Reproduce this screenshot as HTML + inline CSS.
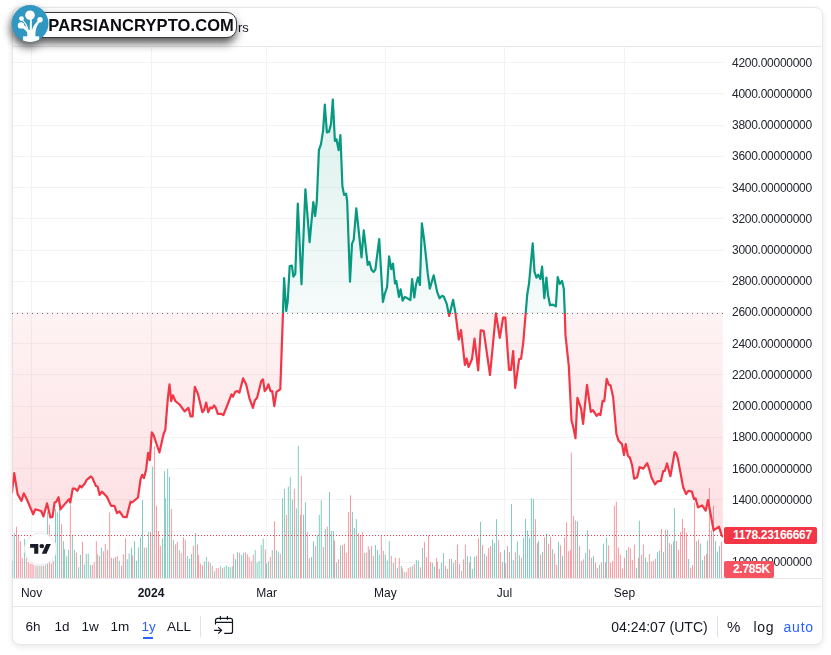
<!DOCTYPE html>
<html><head><meta charset="utf-8"><title>Chart</title>
<style>
html,body{margin:0;padding:0;background:#fff;}
body{width:831px;height:655px;position:relative;overflow:hidden;font-family:"Liberation Sans",sans-serif;color:#131722;}
.card{position:absolute;left:12px;top:7px;width:809px;height:636px;border:1px solid #e6e7ea;border-radius:8px;background:#fff;box-shadow:0 2px 7px rgba(0,0,0,.10);}
.hl{position:absolute;left:12px;width:811px;height:1px;background:#e6e7eb;}
svg.chart{position:absolute;left:0;top:0;}
.pl{position:absolute;left:732px;width:82px;height:16px;line-height:16px;font-size:12px;letter-spacing:-.27px;white-space:nowrap;color:#22252f;}
.tl{position:absolute;top:584.5px;width:60px;text-align:center;font-size:12px;line-height:16px;color:#131722;}
.tl.b{font-weight:bold;}
.tag{position:absolute;left:724px;color:#fff;font-weight:bold;font-size:12px;line-height:17px;height:17px;border-radius:2px;letter-spacing:-.3px;white-space:nowrap;box-sizing:border-box;padding-left:9px;}
.tb{position:absolute;top:618px;height:18px;line-height:18px;font-size:13.5px;white-space:nowrap;color:#131722;}
.blue{color:#2962ff;}
.sep{position:absolute;width:1px;background:#e0e3eb;top:616px;height:21px;}
.title{position:absolute;left:238px;top:19.5px;font-size:13px;line-height:16px;white-space:nowrap;color:#131722;}
.wmg{position:absolute;left:0;top:0;width:260px;height:60px;filter:drop-shadow(-1px 5px 5px rgba(0,0,0,.68));}
.wm{position:absolute;left:14px;top:12px;width:221px;height:24px;border:1px solid #3a3a3a;border-radius:10px;background:#fff;}
.wm span{position:absolute;left:33.3px;top:0;line-height:25px;font-size:16.5px;font-weight:bold;color:#0b0b12;letter-spacing:.1px;white-space:nowrap;}
svg.logo{position:absolute;left:10px;top:3px;}
</style></head><body>
<div id="root" style="position:absolute;left:0;top:0;width:831px;height:655px;opacity:.999;">
<div class="card"></div>
<div class="hl" style="top:46px"></div>
<div class="hl" style="top:578px"></div>
<div class="hl" style="top:606px"></div>
<svg class="chart" width="831" height="655" viewBox="0 0 831 655">
<defs>
<linearGradient id="gt" gradientUnits="userSpaceOnUse" x1="0" y1="47.0" x2="0" y2="313.0"><stop offset="0" stop-color="#089981" stop-opacity=".16"/><stop offset="1" stop-color="#089981" stop-opacity=".04"/></linearGradient>
<linearGradient id="gb" gradientUnits="userSpaceOnUse" x1="0" y1="313.0" x2="0" y2="578.0"><stop offset="0" stop-color="#f23645" stop-opacity=".06"/><stop offset="1" stop-color="#f23645" stop-opacity=".18"/></linearGradient>
<clipPath id="ct"><rect x="12.5" y="47.0" width="710.5" height="266.0"/></clipPath>
<clipPath id="cb"><rect x="12.5" y="313.0" width="710.5" height="265.0"/></clipPath>
<clipPath id="cp"><rect x="12.5" y="47.0" width="710.5" height="531.0"/></clipPath>
</defs>
<g stroke="#f3f3f5" stroke-width="1" shape-rendering="crispEdges"><line x1="12.5" x2="723.0" y1="562.2" y2="562.2"/><line x1="12.5" x2="723.0" y1="531.0" y2="531.0"/><line x1="12.5" x2="723.0" y1="499.8" y2="499.8"/><line x1="12.5" x2="723.0" y1="468.6" y2="468.6"/><line x1="12.5" x2="723.0" y1="437.3" y2="437.3"/><line x1="12.5" x2="723.0" y1="406.1" y2="406.1"/><line x1="12.5" x2="723.0" y1="374.9" y2="374.9"/><line x1="12.5" x2="723.0" y1="343.7" y2="343.7"/><line x1="12.5" x2="723.0" y1="312.4" y2="312.4"/><line x1="12.5" x2="723.0" y1="281.2" y2="281.2"/><line x1="12.5" x2="723.0" y1="250.0" y2="250.0"/><line x1="12.5" x2="723.0" y1="218.7" y2="218.7"/><line x1="12.5" x2="723.0" y1="187.5" y2="187.5"/><line x1="12.5" x2="723.0" y1="156.3" y2="156.3"/><line x1="12.5" x2="723.0" y1="125.1" y2="125.1"/><line x1="12.5" x2="723.0" y1="93.8" y2="93.8"/><line x1="12.5" x2="723.0" y1="62.6" y2="62.6"/><line x1="31.6" x2="31.6" y1="47.0" y2="578.0"/><line x1="151" x2="151" y1="47.0" y2="578.0"/><line x1="266.7" x2="266.7" y1="47.0" y2="578.0"/><line x1="385.4" x2="385.4" y1="47.0" y2="578.0"/><line x1="504.4" x2="504.4" y1="47.0" y2="578.0"/><line x1="624.5" x2="624.5" y1="47.0" y2="578.0"/></g>
<g opacity=".5" clip-path="url(#cp)"><rect x="12.10" y="560.7" width="1" height="17.3" fill="#089981"/><rect x="13.83" y="533.2" width="1" height="44.8" fill="#089981"/><rect x="16.00" y="526.7" width="1" height="51.3" fill="#f23645"/><rect x="17.88" y="535.4" width="1" height="42.6" fill="#f23645"/><rect x="19.90" y="541.2" width="1" height="36.8" fill="#f23645"/><rect x="21.77" y="557.8" width="1" height="20.2" fill="#f23645"/><rect x="23.94" y="539.0" width="1" height="39.0" fill="#089981"/><rect x="25.82" y="557.8" width="1" height="20.2" fill="#f23645"/><rect x="27.84" y="562.1" width="1" height="15.9" fill="#f23645"/><rect x="29.72" y="563.6" width="1" height="14.4" fill="#f23645"/><rect x="31.59" y="563.6" width="1" height="14.4" fill="#f23645"/><rect x="33.33" y="565.0" width="1" height="13.0" fill="#f23645"/><rect x="35.49" y="565.7" width="1" height="12.3" fill="#089981"/><rect x="37.37" y="565.7" width="1" height="12.3" fill="#f23645"/><rect x="39.39" y="565.7" width="1" height="12.3" fill="#089981"/><rect x="41.27" y="565.7" width="1" height="12.3" fill="#f23645"/><rect x="43.15" y="565.7" width="1" height="12.3" fill="#089981"/><rect x="45.17" y="565.0" width="1" height="13.0" fill="#f23645"/><rect x="47.05" y="511.6" width="1" height="66.4" fill="#089981"/><rect x="48.92" y="524.6" width="1" height="53.4" fill="#f23645"/><rect x="50.94" y="563.6" width="1" height="14.4" fill="#f23645"/><rect x="52.82" y="560.7" width="1" height="17.3" fill="#f23645"/><rect x="54.99" y="508.7" width="1" height="69.3" fill="#089981"/><rect x="56.86" y="512.3" width="1" height="65.7" fill="#089981"/><rect x="59.03" y="508.7" width="1" height="69.3" fill="#089981"/><rect x="61.05" y="523.8" width="1" height="54.2" fill="#f23645"/><rect x="62.93" y="541.2" width="1" height="36.8" fill="#089981"/><rect x="64.08" y="549.1" width="1" height="28.9" fill="#089981"/><rect x="66.11" y="556.3" width="1" height="21.7" fill="#089981"/><rect x="67.98" y="549.8" width="1" height="28.2" fill="#089981"/><rect x="69.86" y="504.4" width="1" height="73.6" fill="#f23645"/><rect x="71.88" y="536.1" width="1" height="41.9" fill="#089981"/><rect x="74.05" y="549.8" width="1" height="28.2" fill="#089981"/><rect x="75.93" y="552.7" width="1" height="25.3" fill="#f23645"/><rect x="78.09" y="567.2" width="1" height="10.8" fill="#089981"/><rect x="79.97" y="554.9" width="1" height="23.1" fill="#089981"/><rect x="81.99" y="541.9" width="1" height="36.1" fill="#f23645"/><rect x="83.87" y="564.3" width="1" height="13.7" fill="#089981"/><rect x="85.75" y="553.7" width="1" height="24.3" fill="#089981"/><rect x="87.77" y="553.7" width="1" height="24.3" fill="#089981"/><rect x="89.93" y="565.0" width="1" height="13.0" fill="#089981"/><rect x="91.81" y="565.0" width="1" height="13.0" fill="#f23645"/><rect x="93.69" y="562.4" width="1" height="15.6" fill="#f23645"/><rect x="95.85" y="541.2" width="1" height="36.8" fill="#f23645"/><rect x="97.15" y="554.2" width="1" height="23.8" fill="#089981"/><rect x="99.03" y="556.1" width="1" height="21.9" fill="#f23645"/><rect x="100.91" y="547.7" width="1" height="30.3" fill="#089981"/><rect x="102.93" y="551.3" width="1" height="26.7" fill="#f23645"/><rect x="104.81" y="544.1" width="1" height="33.9" fill="#f23645"/><rect x="106.97" y="549.8" width="1" height="28.2" fill="#f23645"/><rect x="109.14" y="512.3" width="1" height="65.7" fill="#f23645"/><rect x="111.02" y="557.8" width="1" height="20.2" fill="#f23645"/><rect x="113.04" y="558.5" width="1" height="19.5" fill="#089981"/><rect x="114.92" y="557.1" width="1" height="20.9" fill="#f23645"/><rect x="116.79" y="556.1" width="1" height="21.9" fill="#f23645"/><rect x="118.81" y="560.7" width="1" height="17.3" fill="#089981"/><rect x="120.98" y="565.7" width="1" height="12.3" fill="#f23645"/><rect x="122.86" y="554.2" width="1" height="23.8" fill="#f23645"/><rect x="125.02" y="538.3" width="1" height="39.7" fill="#f23645"/><rect x="126.76" y="559.2" width="1" height="18.8" fill="#089981"/><rect x="128.63" y="553.5" width="1" height="24.5" fill="#089981"/><rect x="130.99" y="547.6" width="1" height="30.4" fill="#089981"/><rect x="132.11" y="555.1" width="1" height="22.9" fill="#f23645"/><rect x="133.97" y="541.1" width="1" height="36.9" fill="#089981"/><rect x="136.02" y="560.7" width="1" height="17.3" fill="#089981"/><rect x="137.88" y="547.6" width="1" height="30.4" fill="#089981"/><rect x="139.93" y="537.4" width="1" height="40.6" fill="#089981"/><rect x="141.98" y="500.1" width="1" height="77.9" fill="#089981"/><rect x="143.85" y="547.6" width="1" height="30.4" fill="#f23645"/><rect x="145.90" y="547.6" width="1" height="30.4" fill="#089981"/><rect x="147.95" y="531.8" width="1" height="46.2" fill="#089981"/><rect x="150.00" y="531.8" width="1" height="46.2" fill="#f23645"/><rect x="152.05" y="466.6" width="1" height="111.4" fill="#089981"/><rect x="153.91" y="446.1" width="1" height="131.9" fill="#f23645"/><rect x="155.96" y="505.7" width="1" height="72.3" fill="#f23645"/><rect x="158.01" y="530.9" width="1" height="47.1" fill="#f23645"/><rect x="159.87" y="545.8" width="1" height="32.2" fill="#f23645"/><rect x="161.92" y="538.3" width="1" height="39.7" fill="#089981"/><rect x="163.97" y="471.2" width="1" height="106.8" fill="#089981"/><rect x="164.90" y="498.3" width="1" height="79.7" fill="#089981"/><rect x="167.14" y="469.0" width="1" height="109.0" fill="#089981"/><rect x="169.00" y="476.8" width="1" height="101.2" fill="#089981"/><rect x="170.86" y="508.9" width="1" height="69.1" fill="#f23645"/><rect x="172.91" y="540.2" width="1" height="37.8" fill="#089981"/><rect x="174.96" y="544.3" width="1" height="33.7" fill="#f23645"/><rect x="176.83" y="542.0" width="1" height="36.0" fill="#f23645"/><rect x="178.88" y="550.4" width="1" height="27.6" fill="#089981"/><rect x="180.74" y="553.2" width="1" height="24.8" fill="#f23645"/><rect x="182.97" y="537.4" width="1" height="40.6" fill="#f23645"/><rect x="184.84" y="540.2" width="1" height="37.8" fill="#f23645"/><rect x="186.89" y="556.0" width="1" height="22.0" fill="#089981"/><rect x="188.94" y="558.8" width="1" height="19.2" fill="#089981"/><rect x="190.99" y="554.2" width="1" height="23.8" fill="#089981"/><rect x="192.85" y="545.8" width="1" height="32.2" fill="#f23645"/><rect x="194.90" y="533.3" width="1" height="44.7" fill="#089981"/><rect x="196.95" y="544.3" width="1" height="33.7" fill="#f23645"/><rect x="198.07" y="555.1" width="1" height="22.9" fill="#f23645"/><rect x="199.93" y="563.5" width="1" height="14.5" fill="#f23645"/><rect x="201.98" y="565.3" width="1" height="12.7" fill="#f23645"/><rect x="203.84" y="561.6" width="1" height="16.4" fill="#089981"/><rect x="205.89" y="556.9" width="1" height="21.1" fill="#089981"/><rect x="207.94" y="561.6" width="1" height="16.4" fill="#f23645"/><rect x="209.81" y="563.1" width="1" height="14.9" fill="#089981"/><rect x="211.86" y="565.9" width="1" height="12.1" fill="#f23645"/><rect x="213.90" y="571.5" width="1" height="6.5" fill="#089981"/><rect x="215.77" y="568.1" width="1" height="9.9" fill="#f23645"/><rect x="217.82" y="568.1" width="1" height="9.9" fill="#f23645"/><rect x="219.87" y="566.3" width="1" height="11.7" fill="#089981"/><rect x="221.92" y="568.1" width="1" height="9.9" fill="#f23645"/><rect x="223.78" y="566.8" width="1" height="11.2" fill="#089981"/><rect x="225.83" y="565.3" width="1" height="12.7" fill="#089981"/><rect x="227.88" y="566.8" width="1" height="11.2" fill="#089981"/><rect x="229.74" y="567.2" width="1" height="10.8" fill="#089981"/><rect x="231.79" y="566.3" width="1" height="11.7" fill="#089981"/><rect x="233.10" y="554.2" width="1" height="23.8" fill="#f23645"/><rect x="234.96" y="559.2" width="1" height="18.8" fill="#089981"/><rect x="237.01" y="552.3" width="1" height="25.7" fill="#089981"/><rect x="239.06" y="552.7" width="1" height="25.3" fill="#f23645"/><rect x="240.92" y="555.1" width="1" height="22.9" fill="#089981"/><rect x="242.97" y="552.7" width="1" height="25.3" fill="#089981"/><rect x="245.02" y="552.3" width="1" height="25.7" fill="#f23645"/><rect x="246.88" y="554.2" width="1" height="23.8" fill="#f23645"/><rect x="248.75" y="556.9" width="1" height="21.1" fill="#f23645"/><rect x="250.80" y="561.3" width="1" height="16.7" fill="#f23645"/><rect x="252.75" y="554.8" width="1" height="23.2" fill="#f23645"/><rect x="254.70" y="550.1" width="1" height="27.9" fill="#089981"/><rect x="256.65" y="562.4" width="1" height="15.6" fill="#089981"/><rect x="258.60" y="560.9" width="1" height="17.1" fill="#089981"/><rect x="260.76" y="545.1" width="1" height="32.9" fill="#089981"/><rect x="262.71" y="538.6" width="1" height="39.4" fill="#089981"/><rect x="264.88" y="549.4" width="1" height="28.6" fill="#f23645"/><rect x="265.96" y="563.5" width="1" height="14.5" fill="#089981"/><rect x="267.91" y="561.3" width="1" height="16.7" fill="#089981"/><rect x="269.86" y="557.0" width="1" height="21.0" fill="#f23645"/><rect x="271.81" y="550.1" width="1" height="27.9" fill="#089981"/><rect x="273.97" y="521.3" width="1" height="56.7" fill="#f23645"/><rect x="275.92" y="550.1" width="1" height="27.9" fill="#089981"/><rect x="277.87" y="551.6" width="1" height="26.4" fill="#089981"/><rect x="279.82" y="553.7" width="1" height="24.3" fill="#f23645"/><rect x="281.99" y="498.5" width="1" height="79.5" fill="#089981"/><rect x="283.94" y="488.8" width="1" height="89.2" fill="#089981"/><rect x="285.89" y="514.8" width="1" height="63.2" fill="#f23645"/><rect x="287.84" y="486.6" width="1" height="91.4" fill="#089981"/><rect x="289.79" y="477.3" width="1" height="100.7" fill="#089981"/><rect x="291.95" y="499.6" width="1" height="78.4" fill="#089981"/><rect x="293.90" y="488.8" width="1" height="89.2" fill="#f23645"/><rect x="295.85" y="508.3" width="1" height="69.7" fill="#089981"/><rect x="297.80" y="446.1" width="1" height="131.9" fill="#089981"/><rect x="299.97" y="514.8" width="1" height="63.2" fill="#f23645"/><rect x="300.83" y="475.8" width="1" height="102.2" fill="#f23645"/><rect x="303.00" y="514.8" width="1" height="63.2" fill="#089981"/><rect x="304.95" y="502.4" width="1" height="75.6" fill="#089981"/><rect x="306.90" y="532.1" width="1" height="45.9" fill="#f23645"/><rect x="308.85" y="558.1" width="1" height="19.9" fill="#f23645"/><rect x="311.01" y="557.0" width="1" height="21.0" fill="#089981"/><rect x="312.96" y="541.4" width="1" height="36.6" fill="#089981"/><rect x="314.91" y="546.2" width="1" height="31.8" fill="#f23645"/><rect x="316.86" y="535.3" width="1" height="42.7" fill="#089981"/><rect x="318.81" y="514.8" width="1" height="63.2" fill="#089981"/><rect x="320.76" y="500.2" width="1" height="77.8" fill="#089981"/><rect x="322.92" y="547.2" width="1" height="30.8" fill="#f23645"/><rect x="324.87" y="528.8" width="1" height="49.2" fill="#089981"/><rect x="326.82" y="526.7" width="1" height="51.3" fill="#f23645"/><rect x="328.99" y="492.0" width="1" height="86.0" fill="#089981"/><rect x="330.94" y="531.0" width="1" height="47.0" fill="#089981"/><rect x="332.89" y="531.0" width="1" height="47.0" fill="#089981"/><rect x="333.97" y="540.7" width="1" height="37.3" fill="#f23645"/><rect x="335.92" y="562.4" width="1" height="15.6" fill="#089981"/><rect x="337.87" y="559.2" width="1" height="18.8" fill="#f23645"/><rect x="340.03" y="545.5" width="1" height="32.5" fill="#089981"/><rect x="341.98" y="545.1" width="1" height="32.9" fill="#f23645"/><rect x="343.93" y="543.6" width="1" height="34.4" fill="#f23645"/><rect x="345.88" y="552.7" width="1" height="25.3" fill="#f23645"/><rect x="348.05" y="511.9" width="1" height="66.1" fill="#f23645"/><rect x="350.00" y="495.3" width="1" height="82.7" fill="#f23645"/><rect x="351.95" y="511.9" width="1" height="66.1" fill="#089981"/><rect x="353.90" y="527.8" width="1" height="50.2" fill="#089981"/><rect x="355.85" y="519.1" width="1" height="58.9" fill="#089981"/><rect x="358.01" y="533.2" width="1" height="44.8" fill="#f23645"/><rect x="359.96" y="534.9" width="1" height="43.1" fill="#f23645"/><rect x="361.91" y="532.1" width="1" height="45.9" fill="#f23645"/><rect x="363.86" y="552.7" width="1" height="25.3" fill="#089981"/><rect x="365.81" y="552.7" width="1" height="25.3" fill="#f23645"/><rect x="367.76" y="546.2" width="1" height="31.8" fill="#f23645"/><rect x="369.06" y="549.4" width="1" height="28.6" fill="#089981"/><rect x="371.06" y="546.1" width="1" height="31.9" fill="#f23645"/><rect x="372.92" y="555.9" width="1" height="22.1" fill="#f23645"/><rect x="374.95" y="545.0" width="1" height="33.0" fill="#089981"/><rect x="376.97" y="550.0" width="1" height="28.0" fill="#089981"/><rect x="378.84" y="554.7" width="1" height="23.3" fill="#089981"/><rect x="380.86" y="535.2" width="1" height="42.8" fill="#f23645"/><rect x="382.89" y="550.8" width="1" height="27.2" fill="#f23645"/><rect x="384.75" y="554.7" width="1" height="23.3" fill="#089981"/><rect x="386.78" y="560.6" width="1" height="17.4" fill="#089981"/><rect x="388.80" y="541.1" width="1" height="36.9" fill="#089981"/><rect x="390.82" y="555.9" width="1" height="22.1" fill="#f23645"/><rect x="392.85" y="562.9" width="1" height="15.1" fill="#089981"/><rect x="394.87" y="557.8" width="1" height="20.2" fill="#f23645"/><rect x="396.89" y="567.9" width="1" height="10.1" fill="#089981"/><rect x="398.76" y="557.8" width="1" height="20.2" fill="#f23645"/><rect x="400.78" y="566.0" width="1" height="12.0" fill="#089981"/><rect x="401.87" y="568.4" width="1" height="9.6" fill="#f23645"/><rect x="403.74" y="572.1" width="1" height="5.9" fill="#089981"/><rect x="405.76" y="571.8" width="1" height="6.2" fill="#f23645"/><rect x="407.79" y="568.2" width="1" height="9.8" fill="#f23645"/><rect x="409.81" y="567.1" width="1" height="10.9" fill="#f23645"/><rect x="411.83" y="565.9" width="1" height="12.1" fill="#089981"/><rect x="413.86" y="564.0" width="1" height="14.0" fill="#f23645"/><rect x="415.88" y="560.1" width="1" height="17.9" fill="#089981"/><rect x="417.90" y="560.6" width="1" height="17.4" fill="#089981"/><rect x="419.93" y="567.4" width="1" height="10.6" fill="#f23645"/><rect x="421.95" y="548.0" width="1" height="30.0" fill="#089981"/><rect x="423.97" y="541.9" width="1" height="36.1" fill="#f23645"/><rect x="426.00" y="557.0" width="1" height="21.0" fill="#f23645"/><rect x="428.02" y="535.2" width="1" height="42.8" fill="#f23645"/><rect x="430.04" y="562.0" width="1" height="16.0" fill="#f23645"/><rect x="431.91" y="562.7" width="1" height="15.3" fill="#089981"/><rect x="433.94" y="566.8" width="1" height="11.2" fill="#089981"/><rect x="435.96" y="557.8" width="1" height="20.2" fill="#f23645"/><rect x="436.89" y="561.7" width="1" height="16.3" fill="#f23645"/><rect x="438.92" y="569.0" width="1" height="9.0" fill="#f23645"/><rect x="440.94" y="562.7" width="1" height="15.3" fill="#089981"/><rect x="442.96" y="553.1" width="1" height="24.9" fill="#089981"/><rect x="444.99" y="565.9" width="1" height="12.1" fill="#f23645"/><rect x="447.01" y="569.0" width="1" height="9.0" fill="#f23645"/><rect x="449.03" y="559.0" width="1" height="19.0" fill="#f23645"/><rect x="451.06" y="559.0" width="1" height="19.0" fill="#089981"/><rect x="453.08" y="562.9" width="1" height="15.1" fill="#089981"/><rect x="455.10" y="560.1" width="1" height="17.9" fill="#f23645"/><rect x="456.97" y="544.5" width="1" height="33.5" fill="#f23645"/><rect x="458.99" y="564.0" width="1" height="14.0" fill="#f23645"/><rect x="461.02" y="571.0" width="1" height="7.0" fill="#089981"/><rect x="463.04" y="559.3" width="1" height="18.7" fill="#f23645"/><rect x="464.91" y="544.5" width="1" height="33.5" fill="#f23645"/><rect x="466.93" y="556.2" width="1" height="21.8" fill="#089981"/><rect x="468.96" y="562.7" width="1" height="15.3" fill="#f23645"/><rect x="469.89" y="556.5" width="1" height="21.5" fill="#089981"/><rect x="471.91" y="569.0" width="1" height="9.0" fill="#089981"/><rect x="473.94" y="557.0" width="1" height="21.0" fill="#089981"/><rect x="475.96" y="555.9" width="1" height="22.1" fill="#f23645"/><rect x="477.98" y="538.3" width="1" height="39.7" fill="#f23645"/><rect x="480.01" y="521.7" width="1" height="56.3" fill="#089981"/><rect x="482.03" y="545.0" width="1" height="33.0" fill="#f23645"/><rect x="484.05" y="553.9" width="1" height="24.1" fill="#089981"/><rect x="486.08" y="555.9" width="1" height="22.1" fill="#f23645"/><rect x="488.10" y="548.0" width="1" height="30.0" fill="#f23645"/><rect x="489.97" y="546.1" width="1" height="31.9" fill="#f23645"/><rect x="491.99" y="539.4" width="1" height="38.6" fill="#089981"/><rect x="494.01" y="543.0" width="1" height="35.0" fill="#089981"/><rect x="496.04" y="519.2" width="1" height="58.8" fill="#089981"/><rect x="498.06" y="539.9" width="1" height="38.1" fill="#f23645"/><rect x="499.93" y="552.3" width="1" height="25.7" fill="#f23645"/><rect x="501.95" y="561.7" width="1" height="16.3" fill="#089981"/><rect x="503.97" y="550.0" width="1" height="28.0" fill="#089981"/><rect x="504.91" y="563.2" width="1" height="14.8" fill="#f23645"/><rect x="506.93" y="546.1" width="1" height="31.9" fill="#f23645"/><rect x="508.96" y="552.0" width="1" height="26.0" fill="#f23645"/><rect x="510.98" y="504.1" width="1" height="73.9" fill="#089981"/><rect x="512.85" y="560.1" width="1" height="17.9" fill="#089981"/><rect x="514.87" y="552.3" width="1" height="25.7" fill="#f23645"/><rect x="516.89" y="541.4" width="1" height="36.6" fill="#089981"/><rect x="518.92" y="555.4" width="1" height="22.6" fill="#089981"/><rect x="520.94" y="557.8" width="1" height="20.2" fill="#f23645"/><rect x="522.96" y="537.8" width="1" height="40.2" fill="#089981"/><rect x="524.99" y="518.9" width="1" height="59.1" fill="#089981"/><rect x="527.01" y="530.5" width="1" height="47.5" fill="#089981"/><rect x="529.03" y="537.8" width="1" height="40.2" fill="#089981"/><rect x="530.90" y="498.3" width="1" height="79.7" fill="#089981"/><rect x="532.92" y="499.1" width="1" height="78.9" fill="#089981"/><rect x="534.95" y="519.2" width="1" height="58.8" fill="#f23645"/><rect x="536.97" y="543.0" width="1" height="35.0" fill="#f23645"/><rect x="538.06" y="541.0" width="1" height="37.0" fill="#089981"/><rect x="540.08" y="554.7" width="1" height="23.3" fill="#f23645"/><rect x="542.11" y="551.9" width="1" height="26.1" fill="#089981"/><rect x="543.97" y="537.2" width="1" height="40.8" fill="#f23645"/><rect x="546.00" y="533.6" width="1" height="44.4" fill="#089981"/><rect x="548.02" y="543.8" width="1" height="34.2" fill="#f23645"/><rect x="550.04" y="536.8" width="1" height="41.2" fill="#f23645"/><rect x="552.07" y="549.2" width="1" height="28.8" fill="#089981"/><rect x="554.09" y="553.4" width="1" height="24.6" fill="#f23645"/><rect x="556.11" y="564.8" width="1" height="13.2" fill="#f23645"/><rect x="557.98" y="541.9" width="1" height="36.1" fill="#089981"/><rect x="560.01" y="545.3" width="1" height="32.7" fill="#f23645"/><rect x="562.03" y="555.9" width="1" height="22.1" fill="#089981"/><rect x="564.05" y="537.5" width="1" height="40.5" fill="#f23645"/><rect x="566.08" y="522.3" width="1" height="55.7" fill="#f23645"/><rect x="568.10" y="551.2" width="1" height="26.8" fill="#f23645"/><rect x="569.97" y="550.0" width="1" height="28.0" fill="#f23645"/><rect x="570.90" y="452.6" width="1" height="125.4" fill="#f23645"/><rect x="573.08" y="516.1" width="1" height="61.9" fill="#f23645"/><rect x="575.10" y="520.4" width="1" height="57.6" fill="#f23645"/><rect x="576.97" y="521.2" width="1" height="56.8" fill="#089981"/><rect x="578.99" y="546.1" width="1" height="31.9" fill="#f23645"/><rect x="581.02" y="561.2" width="1" height="16.8" fill="#f23645"/><rect x="582.89" y="559.3" width="1" height="18.7" fill="#f23645"/><rect x="584.91" y="552.8" width="1" height="25.2" fill="#089981"/><rect x="586.93" y="530.2" width="1" height="47.8" fill="#089981"/><rect x="588.96" y="549.2" width="1" height="28.8" fill="#f23645"/><rect x="590.98" y="557.8" width="1" height="20.2" fill="#f23645"/><rect x="593.00" y="556.2" width="1" height="21.8" fill="#089981"/><rect x="595.03" y="562.7" width="1" height="15.3" fill="#f23645"/><rect x="596.89" y="567.9" width="1" height="10.1" fill="#f23645"/><rect x="598.92" y="564.8" width="1" height="13.2" fill="#089981"/><rect x="600.94" y="562.4" width="1" height="15.6" fill="#f23645"/><rect x="602.96" y="543.8" width="1" height="34.2" fill="#089981"/><rect x="604.99" y="562.4" width="1" height="15.6" fill="#f23645"/><rect x="606.08" y="537.5" width="1" height="40.5" fill="#089981"/><rect x="608.10" y="545.3" width="1" height="32.7" fill="#f23645"/><rect x="609.95" y="562.7" width="1" height="15.3" fill="#f23645"/><rect x="611.97" y="560.9" width="1" height="17.1" fill="#f23645"/><rect x="613.84" y="505.6" width="1" height="72.4" fill="#f23645"/><rect x="615.86" y="501.7" width="1" height="76.3" fill="#f23645"/><rect x="617.89" y="547.6" width="1" height="30.4" fill="#f23645"/><rect x="619.91" y="554.7" width="1" height="23.3" fill="#f23645"/><rect x="621.93" y="568.7" width="1" height="9.3" fill="#f23645"/><rect x="623.96" y="557.8" width="1" height="20.2" fill="#f23645"/><rect x="625.98" y="550.0" width="1" height="28.0" fill="#089981"/><rect x="627.85" y="546.9" width="1" height="31.1" fill="#f23645"/><rect x="629.87" y="548.4" width="1" height="29.6" fill="#f23645"/><rect x="631.89" y="560.1" width="1" height="17.9" fill="#f23645"/><rect x="633.92" y="544.5" width="1" height="33.5" fill="#f23645"/><rect x="635.94" y="567.9" width="1" height="10.1" fill="#089981"/><rect x="637.96" y="557.8" width="1" height="20.2" fill="#f23645"/><rect x="638.90" y="520.7" width="1" height="57.3" fill="#089981"/><rect x="640.92" y="554.7" width="1" height="23.3" fill="#f23645"/><rect x="642.94" y="544.5" width="1" height="33.5" fill="#f23645"/><rect x="644.97" y="557.5" width="1" height="20.5" fill="#089981"/><rect x="646.83" y="562.0" width="1" height="16.0" fill="#089981"/><rect x="648.86" y="553.9" width="1" height="24.1" fill="#f23645"/><rect x="650.88" y="561.7" width="1" height="16.3" fill="#f23645"/><rect x="652.90" y="560.9" width="1" height="17.1" fill="#f23645"/><rect x="654.93" y="558.9" width="1" height="19.1" fill="#f23645"/><rect x="656.95" y="552.3" width="1" height="25.7" fill="#089981"/><rect x="658.97" y="550.8" width="1" height="27.2" fill="#089981"/><rect x="661.00" y="529.0" width="1" height="49.0" fill="#f23645"/><rect x="663.02" y="551.9" width="1" height="26.1" fill="#089981"/><rect x="665.04" y="529.8" width="1" height="48.2" fill="#f23645"/><rect x="667.07" y="529.8" width="1" height="48.2" fill="#089981"/><rect x="668.94" y="543.0" width="1" height="35.0" fill="#f23645"/><rect x="670.96" y="544.5" width="1" height="33.5" fill="#f23645"/><rect x="672.98" y="541.4" width="1" height="36.6" fill="#089981"/><rect x="673.92" y="508.0" width="1" height="70.0" fill="#089981"/><rect x="675.94" y="541.0" width="1" height="37.0" fill="#f23645"/><rect x="677.96" y="550.0" width="1" height="28.0" fill="#f23645"/><rect x="679.99" y="532.1" width="1" height="45.9" fill="#f23645"/><rect x="682.01" y="518.9" width="1" height="59.1" fill="#f23645"/><rect x="684.03" y="527.9" width="1" height="50.1" fill="#f23645"/><rect x="686.06" y="532.9" width="1" height="45.1" fill="#f23645"/><rect x="688.08" y="559.0" width="1" height="19.0" fill="#089981"/><rect x="690.10" y="567.6" width="1" height="10.4" fill="#f23645"/><rect x="691.97" y="565.2" width="1" height="12.8" fill="#f23645"/><rect x="693.99" y="502.5" width="1" height="75.5" fill="#f23645"/><rect x="696.02" y="541.4" width="1" height="36.6" fill="#089981"/><rect x="698.04" y="539.9" width="1" height="38.1" fill="#f23645"/><rect x="699.91" y="543.8" width="1" height="34.2" fill="#089981"/><rect x="701.93" y="560.1" width="1" height="17.9" fill="#089981"/><rect x="703.96" y="555.9" width="1" height="22.1" fill="#f23645"/><rect x="705.98" y="553.9" width="1" height="24.1" fill="#f23645"/><rect x="706.91" y="540.6" width="1" height="37.4" fill="#089981"/><rect x="708.94" y="488.0" width="1" height="90.0" fill="#f23645"/><rect x="710.96" y="530.5" width="1" height="47.5" fill="#f23645"/><rect x="712.98" y="505.6" width="1" height="72.4" fill="#f23645"/><rect x="715.01" y="541.0" width="1" height="37.0" fill="#089981"/><rect x="717.03" y="551.5" width="1" height="26.5" fill="#089981"/><rect x="719.05" y="546.1" width="1" height="31.9" fill="#089981"/><rect x="720.92" y="541.9" width="1" height="36.1" fill="#f23645"/></g>
<polygon points="12.0,313.0 12.0,492.4 14.2,473.1 17.6,494.1 21.5,500.9 23.8,493.3 26.8,499.2 33.2,514.3 35.3,509.3 41.2,511.0 43.4,516.4 47.1,503.4 50.4,517.4 52.5,516.9 54.6,502.5 56.3,501.7 58.5,497.2 60.5,509.3 63.9,505.1 69.0,499.2 70.3,502.5 72.7,488.7 74.9,488.7 77.4,490.8 79.9,485.7 81.6,487.4 85.0,483.2 86.7,479.8 90.9,476.4 92.5,478.1 95.9,486.0 97.6,486.5 99.6,495.0 101.8,491.6 106.9,496.7 111.1,505.9 114.4,505.9 117.0,513.0 119.5,511.3 123.2,516.9 126.6,517.2 130.5,501.7 132.1,502.5 138.0,497.5 140.6,479.0 142.2,474.8 143.9,478.1 146.1,469.7 148.1,452.8 149.8,460.1 151.8,432.3 153.5,434.9 159.4,452.5 163.6,434.0 165.3,429.8 167.8,398.6 169.5,384.3 171.2,401.2 172.9,395.3 175.4,401.2 179.6,404.5 184.6,411.3 188.5,407.9 190.5,416.3 192.6,416.3 194.8,386.8 198.1,394.4 202.3,412.1 204.0,410.4 206.2,402.5 208.2,412.1 210.4,407.4 212.1,408.4 214.1,405.4 215.8,407.9 217.8,413.8 220.9,413.8 223.4,415.1 227.6,404.5 231.5,394.4 233.0,396.6 235.2,391.9 237.4,391.1 239.4,392.7 243.1,378.4 246.1,384.3 249.5,398.6 252.9,407.9 254.9,400.3 257.1,397.8 261.3,381.0 263.0,379.3 264.7,391.1 266.7,388.5 268.4,384.3 270.6,391.1 272.2,391.1 274.3,406.2 276.5,391.9 279.0,390.2 280.3,389.1 283.0,312.5 284.1,278.0 286.2,311.0 287.7,301.0 289.7,266.0 291.9,265.7 293.4,276.7 295.3,273.8 297.8,203.5 301.5,284.3 305.4,189.4 309.6,242.1 313.3,202.0 315.1,216.0 316.8,201.5 318.9,150.1 321.0,144.2 323.1,130.7 324.8,104.6 326.9,132.4 329.0,131.6 331.0,124.0 332.8,99.6 334.9,140.9 336.5,139.2 338.6,150.1 340.4,135.0 342.4,186.3 344.1,194.8 346.1,193.6 347.2,201.5 350.0,281.7 352.0,243.8 353.7,239.6 356.3,208.4 361.5,257.3 363.8,230.3 367.7,264.9 369.4,262.0 371.6,269.9 373.6,271.9 375.3,269.9 379.2,239.1 382.9,301.9 384.9,293.5 387.1,286.8 389.1,256.4 391.3,269.1 393.0,263.7 395.0,283.4 396.3,280.9 398.9,296.9 400.6,289.3 402.6,300.6 404.8,296.9 410.4,300.0 412.1,279.0 414.3,297.5 416.0,284.9 418.0,277.3 419.9,284.9 421.9,223.4 424.1,239.4 427.8,273.9 429.8,288.6 433.7,275.3 437.1,291.6 439.6,298.3 442.1,295.8 443.8,296.7 446.8,304.2 449.2,316.0 453.1,299.8 455.4,312.6 458.8,339.6 461.0,330.0 464.9,364.9 466.6,358.6 468.6,367.0 472.0,359.0 474.5,338.7 478.2,370.4 480.7,330.3 483.7,330.8 490.0,375.0 495.9,313.4 499.8,337.9 503.1,317.7 505.3,317.7 509.0,369.9 511.0,369.9 513.2,351.0 515.2,387.9 519.1,359.3 521.1,358.6 523.3,342.1 525.7,313.1 527.2,294.8 529.0,283.8 532.7,243.3 534.5,271.6 536.4,277.7 538.2,274.7 540.4,279.0 542.1,266.5 544.3,298.2 546.4,277.5 548.0,294.8 550.0,305.2 552.9,304.6 555.9,306.4 557.7,277.1 559.8,283.8 562.0,280.8 563.8,288.7 564.8,313.1 565.5,335.4 568.8,366.0 571.5,420.5 573.1,426.4 575.5,438.2 577.4,397.8 581.1,408.7 583.1,423.9 587.0,384.8 590.8,411.8 592.9,410.1 596.7,415.8 598.7,413.8 600.4,415.1 602.6,400.8 604.3,401.2 606.7,378.8 608.9,384.8 610.5,385.2 613.1,397.0 616.4,434.0 618.6,440.8 622.0,444.1 624.0,455.1 625.7,444.1 627.9,455.9 629.9,457.6 632.1,465.2 634.1,478.7 637.2,477.2 639.6,467.0 643.3,468.7 647.2,463.1 649.3,469.4 651.5,477.5 655.1,484.4 657.4,481.4 660.9,480.9 663.2,471.2 664.8,470.9 667.0,463.5 670.4,476.2 674.7,452.0 676.2,453.4 677.7,458.0 680.3,471.7 683.1,487.0 686.1,494.2 688.4,490.8 691.8,491.6 694.1,499.2 695.6,498.5 698.0,507.3 702.2,505.4 705.7,510.7 708.0,500.0 713.6,530.3 719.0,526.7 721.6,535.1 722.8,536.4 722.8,313.0" fill="url(#gt)" clip-path="url(#ct)"/>
<polygon points="12.0,313.0 12.0,492.4 14.2,473.1 17.6,494.1 21.5,500.9 23.8,493.3 26.8,499.2 33.2,514.3 35.3,509.3 41.2,511.0 43.4,516.4 47.1,503.4 50.4,517.4 52.5,516.9 54.6,502.5 56.3,501.7 58.5,497.2 60.5,509.3 63.9,505.1 69.0,499.2 70.3,502.5 72.7,488.7 74.9,488.7 77.4,490.8 79.9,485.7 81.6,487.4 85.0,483.2 86.7,479.8 90.9,476.4 92.5,478.1 95.9,486.0 97.6,486.5 99.6,495.0 101.8,491.6 106.9,496.7 111.1,505.9 114.4,505.9 117.0,513.0 119.5,511.3 123.2,516.9 126.6,517.2 130.5,501.7 132.1,502.5 138.0,497.5 140.6,479.0 142.2,474.8 143.9,478.1 146.1,469.7 148.1,452.8 149.8,460.1 151.8,432.3 153.5,434.9 159.4,452.5 163.6,434.0 165.3,429.8 167.8,398.6 169.5,384.3 171.2,401.2 172.9,395.3 175.4,401.2 179.6,404.5 184.6,411.3 188.5,407.9 190.5,416.3 192.6,416.3 194.8,386.8 198.1,394.4 202.3,412.1 204.0,410.4 206.2,402.5 208.2,412.1 210.4,407.4 212.1,408.4 214.1,405.4 215.8,407.9 217.8,413.8 220.9,413.8 223.4,415.1 227.6,404.5 231.5,394.4 233.0,396.6 235.2,391.9 237.4,391.1 239.4,392.7 243.1,378.4 246.1,384.3 249.5,398.6 252.9,407.9 254.9,400.3 257.1,397.8 261.3,381.0 263.0,379.3 264.7,391.1 266.7,388.5 268.4,384.3 270.6,391.1 272.2,391.1 274.3,406.2 276.5,391.9 279.0,390.2 280.3,389.1 283.0,312.5 284.1,278.0 286.2,311.0 287.7,301.0 289.7,266.0 291.9,265.7 293.4,276.7 295.3,273.8 297.8,203.5 301.5,284.3 305.4,189.4 309.6,242.1 313.3,202.0 315.1,216.0 316.8,201.5 318.9,150.1 321.0,144.2 323.1,130.7 324.8,104.6 326.9,132.4 329.0,131.6 331.0,124.0 332.8,99.6 334.9,140.9 336.5,139.2 338.6,150.1 340.4,135.0 342.4,186.3 344.1,194.8 346.1,193.6 347.2,201.5 350.0,281.7 352.0,243.8 353.7,239.6 356.3,208.4 361.5,257.3 363.8,230.3 367.7,264.9 369.4,262.0 371.6,269.9 373.6,271.9 375.3,269.9 379.2,239.1 382.9,301.9 384.9,293.5 387.1,286.8 389.1,256.4 391.3,269.1 393.0,263.7 395.0,283.4 396.3,280.9 398.9,296.9 400.6,289.3 402.6,300.6 404.8,296.9 410.4,300.0 412.1,279.0 414.3,297.5 416.0,284.9 418.0,277.3 419.9,284.9 421.9,223.4 424.1,239.4 427.8,273.9 429.8,288.6 433.7,275.3 437.1,291.6 439.6,298.3 442.1,295.8 443.8,296.7 446.8,304.2 449.2,316.0 453.1,299.8 455.4,312.6 458.8,339.6 461.0,330.0 464.9,364.9 466.6,358.6 468.6,367.0 472.0,359.0 474.5,338.7 478.2,370.4 480.7,330.3 483.7,330.8 490.0,375.0 495.9,313.4 499.8,337.9 503.1,317.7 505.3,317.7 509.0,369.9 511.0,369.9 513.2,351.0 515.2,387.9 519.1,359.3 521.1,358.6 523.3,342.1 525.7,313.1 527.2,294.8 529.0,283.8 532.7,243.3 534.5,271.6 536.4,277.7 538.2,274.7 540.4,279.0 542.1,266.5 544.3,298.2 546.4,277.5 548.0,294.8 550.0,305.2 552.9,304.6 555.9,306.4 557.7,277.1 559.8,283.8 562.0,280.8 563.8,288.7 564.8,313.1 565.5,335.4 568.8,366.0 571.5,420.5 573.1,426.4 575.5,438.2 577.4,397.8 581.1,408.7 583.1,423.9 587.0,384.8 590.8,411.8 592.9,410.1 596.7,415.8 598.7,413.8 600.4,415.1 602.6,400.8 604.3,401.2 606.7,378.8 608.9,384.8 610.5,385.2 613.1,397.0 616.4,434.0 618.6,440.8 622.0,444.1 624.0,455.1 625.7,444.1 627.9,455.9 629.9,457.6 632.1,465.2 634.1,478.7 637.2,477.2 639.6,467.0 643.3,468.7 647.2,463.1 649.3,469.4 651.5,477.5 655.1,484.4 657.4,481.4 660.9,480.9 663.2,471.2 664.8,470.9 667.0,463.5 670.4,476.2 674.7,452.0 676.2,453.4 677.7,458.0 680.3,471.7 683.1,487.0 686.1,494.2 688.4,490.8 691.8,491.6 694.1,499.2 695.6,498.5 698.0,507.3 702.2,505.4 705.7,510.7 708.0,500.0 713.6,530.3 719.0,526.7 721.6,535.1 722.8,536.4 722.8,313.0" fill="url(#gb)" clip-path="url(#cb)"/>
<line x1="12" x2="723.0" y1="313.5" y2="313.5" stroke="#686b74" stroke-width="1" stroke-dasharray="1 4"/>
<polyline points="12.0,492.4 14.2,473.1 17.6,494.1 21.5,500.9 23.8,493.3 26.8,499.2 33.2,514.3 35.3,509.3 41.2,511.0 43.4,516.4 47.1,503.4 50.4,517.4 52.5,516.9 54.6,502.5 56.3,501.7 58.5,497.2 60.5,509.3 63.9,505.1 69.0,499.2 70.3,502.5 72.7,488.7 74.9,488.7 77.4,490.8 79.9,485.7 81.6,487.4 85.0,483.2 86.7,479.8 90.9,476.4 92.5,478.1 95.9,486.0 97.6,486.5 99.6,495.0 101.8,491.6 106.9,496.7 111.1,505.9 114.4,505.9 117.0,513.0 119.5,511.3 123.2,516.9 126.6,517.2 130.5,501.7 132.1,502.5 138.0,497.5 140.6,479.0 142.2,474.8 143.9,478.1 146.1,469.7 148.1,452.8 149.8,460.1 151.8,432.3 153.5,434.9 159.4,452.5 163.6,434.0 165.3,429.8 167.8,398.6 169.5,384.3 171.2,401.2 172.9,395.3 175.4,401.2 179.6,404.5 184.6,411.3 188.5,407.9 190.5,416.3 192.6,416.3 194.8,386.8 198.1,394.4 202.3,412.1 204.0,410.4 206.2,402.5 208.2,412.1 210.4,407.4 212.1,408.4 214.1,405.4 215.8,407.9 217.8,413.8 220.9,413.8 223.4,415.1 227.6,404.5 231.5,394.4 233.0,396.6 235.2,391.9 237.4,391.1 239.4,392.7 243.1,378.4 246.1,384.3 249.5,398.6 252.9,407.9 254.9,400.3 257.1,397.8 261.3,381.0 263.0,379.3 264.7,391.1 266.7,388.5 268.4,384.3 270.6,391.1 272.2,391.1 274.3,406.2 276.5,391.9 279.0,390.2 280.3,389.1 283.0,312.5 284.1,278.0 286.2,311.0 287.7,301.0 289.7,266.0 291.9,265.7 293.4,276.7 295.3,273.8 297.8,203.5 301.5,284.3 305.4,189.4 309.6,242.1 313.3,202.0 315.1,216.0 316.8,201.5 318.9,150.1 321.0,144.2 323.1,130.7 324.8,104.6 326.9,132.4 329.0,131.6 331.0,124.0 332.8,99.6 334.9,140.9 336.5,139.2 338.6,150.1 340.4,135.0 342.4,186.3 344.1,194.8 346.1,193.6 347.2,201.5 350.0,281.7 352.0,243.8 353.7,239.6 356.3,208.4 361.5,257.3 363.8,230.3 367.7,264.9 369.4,262.0 371.6,269.9 373.6,271.9 375.3,269.9 379.2,239.1 382.9,301.9 384.9,293.5 387.1,286.8 389.1,256.4 391.3,269.1 393.0,263.7 395.0,283.4 396.3,280.9 398.9,296.9 400.6,289.3 402.6,300.6 404.8,296.9 410.4,300.0 412.1,279.0 414.3,297.5 416.0,284.9 418.0,277.3 419.9,284.9 421.9,223.4 424.1,239.4 427.8,273.9 429.8,288.6 433.7,275.3 437.1,291.6 439.6,298.3 442.1,295.8 443.8,296.7 446.8,304.2 449.2,316.0 453.1,299.8 455.4,312.6 458.8,339.6 461.0,330.0 464.9,364.9 466.6,358.6 468.6,367.0 472.0,359.0 474.5,338.7 478.2,370.4 480.7,330.3 483.7,330.8 490.0,375.0 495.9,313.4 499.8,337.9 503.1,317.7 505.3,317.7 509.0,369.9 511.0,369.9 513.2,351.0 515.2,387.9 519.1,359.3 521.1,358.6 523.3,342.1 525.7,313.1 527.2,294.8 529.0,283.8 532.7,243.3 534.5,271.6 536.4,277.7 538.2,274.7 540.4,279.0 542.1,266.5 544.3,298.2 546.4,277.5 548.0,294.8 550.0,305.2 552.9,304.6 555.9,306.4 557.7,277.1 559.8,283.8 562.0,280.8 563.8,288.7 564.8,313.1 565.5,335.4 568.8,366.0 571.5,420.5 573.1,426.4 575.5,438.2 577.4,397.8 581.1,408.7 583.1,423.9 587.0,384.8 590.8,411.8 592.9,410.1 596.7,415.8 598.7,413.8 600.4,415.1 602.6,400.8 604.3,401.2 606.7,378.8 608.9,384.8 610.5,385.2 613.1,397.0 616.4,434.0 618.6,440.8 622.0,444.1 624.0,455.1 625.7,444.1 627.9,455.9 629.9,457.6 632.1,465.2 634.1,478.7 637.2,477.2 639.6,467.0 643.3,468.7 647.2,463.1 649.3,469.4 651.5,477.5 655.1,484.4 657.4,481.4 660.9,480.9 663.2,471.2 664.8,470.9 667.0,463.5 670.4,476.2 674.7,452.0 676.2,453.4 677.7,458.0 680.3,471.7 683.1,487.0 686.1,494.2 688.4,490.8 691.8,491.6 694.1,499.2 695.6,498.5 698.0,507.3 702.2,505.4 705.7,510.7 708.0,500.0 713.6,530.3 719.0,526.7 721.6,535.1 722.8,536.4" fill="none" stroke="#089981" stroke-width="2.2" stroke-linejoin="round" stroke-linecap="round" clip-path="url(#ct)"/>
<polyline points="12.0,492.4 14.2,473.1 17.6,494.1 21.5,500.9 23.8,493.3 26.8,499.2 33.2,514.3 35.3,509.3 41.2,511.0 43.4,516.4 47.1,503.4 50.4,517.4 52.5,516.9 54.6,502.5 56.3,501.7 58.5,497.2 60.5,509.3 63.9,505.1 69.0,499.2 70.3,502.5 72.7,488.7 74.9,488.7 77.4,490.8 79.9,485.7 81.6,487.4 85.0,483.2 86.7,479.8 90.9,476.4 92.5,478.1 95.9,486.0 97.6,486.5 99.6,495.0 101.8,491.6 106.9,496.7 111.1,505.9 114.4,505.9 117.0,513.0 119.5,511.3 123.2,516.9 126.6,517.2 130.5,501.7 132.1,502.5 138.0,497.5 140.6,479.0 142.2,474.8 143.9,478.1 146.1,469.7 148.1,452.8 149.8,460.1 151.8,432.3 153.5,434.9 159.4,452.5 163.6,434.0 165.3,429.8 167.8,398.6 169.5,384.3 171.2,401.2 172.9,395.3 175.4,401.2 179.6,404.5 184.6,411.3 188.5,407.9 190.5,416.3 192.6,416.3 194.8,386.8 198.1,394.4 202.3,412.1 204.0,410.4 206.2,402.5 208.2,412.1 210.4,407.4 212.1,408.4 214.1,405.4 215.8,407.9 217.8,413.8 220.9,413.8 223.4,415.1 227.6,404.5 231.5,394.4 233.0,396.6 235.2,391.9 237.4,391.1 239.4,392.7 243.1,378.4 246.1,384.3 249.5,398.6 252.9,407.9 254.9,400.3 257.1,397.8 261.3,381.0 263.0,379.3 264.7,391.1 266.7,388.5 268.4,384.3 270.6,391.1 272.2,391.1 274.3,406.2 276.5,391.9 279.0,390.2 280.3,389.1 283.0,312.5 284.1,278.0 286.2,311.0 287.7,301.0 289.7,266.0 291.9,265.7 293.4,276.7 295.3,273.8 297.8,203.5 301.5,284.3 305.4,189.4 309.6,242.1 313.3,202.0 315.1,216.0 316.8,201.5 318.9,150.1 321.0,144.2 323.1,130.7 324.8,104.6 326.9,132.4 329.0,131.6 331.0,124.0 332.8,99.6 334.9,140.9 336.5,139.2 338.6,150.1 340.4,135.0 342.4,186.3 344.1,194.8 346.1,193.6 347.2,201.5 350.0,281.7 352.0,243.8 353.7,239.6 356.3,208.4 361.5,257.3 363.8,230.3 367.7,264.9 369.4,262.0 371.6,269.9 373.6,271.9 375.3,269.9 379.2,239.1 382.9,301.9 384.9,293.5 387.1,286.8 389.1,256.4 391.3,269.1 393.0,263.7 395.0,283.4 396.3,280.9 398.9,296.9 400.6,289.3 402.6,300.6 404.8,296.9 410.4,300.0 412.1,279.0 414.3,297.5 416.0,284.9 418.0,277.3 419.9,284.9 421.9,223.4 424.1,239.4 427.8,273.9 429.8,288.6 433.7,275.3 437.1,291.6 439.6,298.3 442.1,295.8 443.8,296.7 446.8,304.2 449.2,316.0 453.1,299.8 455.4,312.6 458.8,339.6 461.0,330.0 464.9,364.9 466.6,358.6 468.6,367.0 472.0,359.0 474.5,338.7 478.2,370.4 480.7,330.3 483.7,330.8 490.0,375.0 495.9,313.4 499.8,337.9 503.1,317.7 505.3,317.7 509.0,369.9 511.0,369.9 513.2,351.0 515.2,387.9 519.1,359.3 521.1,358.6 523.3,342.1 525.7,313.1 527.2,294.8 529.0,283.8 532.7,243.3 534.5,271.6 536.4,277.7 538.2,274.7 540.4,279.0 542.1,266.5 544.3,298.2 546.4,277.5 548.0,294.8 550.0,305.2 552.9,304.6 555.9,306.4 557.7,277.1 559.8,283.8 562.0,280.8 563.8,288.7 564.8,313.1 565.5,335.4 568.8,366.0 571.5,420.5 573.1,426.4 575.5,438.2 577.4,397.8 581.1,408.7 583.1,423.9 587.0,384.8 590.8,411.8 592.9,410.1 596.7,415.8 598.7,413.8 600.4,415.1 602.6,400.8 604.3,401.2 606.7,378.8 608.9,384.8 610.5,385.2 613.1,397.0 616.4,434.0 618.6,440.8 622.0,444.1 624.0,455.1 625.7,444.1 627.9,455.9 629.9,457.6 632.1,465.2 634.1,478.7 637.2,477.2 639.6,467.0 643.3,468.7 647.2,463.1 649.3,469.4 651.5,477.5 655.1,484.4 657.4,481.4 660.9,480.9 663.2,471.2 664.8,470.9 667.0,463.5 670.4,476.2 674.7,452.0 676.2,453.4 677.7,458.0 680.3,471.7 683.1,487.0 686.1,494.2 688.4,490.8 691.8,491.6 694.1,499.2 695.6,498.5 698.0,507.3 702.2,505.4 705.7,510.7 708.0,500.0 713.6,530.3 719.0,526.7 721.6,535.1 722.8,536.4" fill="none" stroke="#f23645" stroke-width="2.2" stroke-linejoin="round" stroke-linecap="round" clip-path="url(#cb)"/>
<line x1="12" x2="723.0" y1="535.5" y2="535.5" stroke="#f23645" stroke-width="1" stroke-dasharray="1 2"/>
<circle cx="40.4" cy="549" r="16" fill="#fff" stroke="#e6e8ee" stroke-width="1"/>
<g transform="translate(30.1,543.9) scale(0.585,0.55)" fill="#1a1d27"><path d="M14 18H7V7H0V0h14v18z"/><circle cx="20" cy="4" r="4"/><path d="M28 18h-8L27.5 0h8L28 18z"/></g>
</svg>
<div class="pl" style="top:554.2px">1000.00000000</div><div class="pl" style="top:491.8px">1400.00000000</div><div class="pl" style="top:460.6px">1600.00000000</div><div class="pl" style="top:429.3px">1800.00000000</div><div class="pl" style="top:398.1px">2000.00000000</div><div class="pl" style="top:366.9px">2200.00000000</div><div class="pl" style="top:335.7px">2400.00000000</div><div class="pl" style="top:304.4px">2600.00000000</div><div class="pl" style="top:273.2px">2800.00000000</div><div class="pl" style="top:242.0px">3000.00000000</div><div class="pl" style="top:210.7px">3200.00000000</div><div class="pl" style="top:179.5px">3400.00000000</div><div class="pl" style="top:148.3px">3600.00000000</div><div class="pl" style="top:117.1px">3800.00000000</div><div class="pl" style="top:85.8px">4000.00000000</div><div class="pl" style="top:54.6px">4200.00000000</div>
<div class="tl" style="left:1.6px">Nov</div><div class="tl b" style="left:121.0px">2024</div><div class="tl" style="left:236.7px">Mar</div><div class="tl" style="left:355.4px">May</div><div class="tl" style="left:474.4px">Jul</div><div class="tl" style="left:594.5px">Sep</div>
<div class="tag" style="top:527px;width:93px;background:#f23645;">1178.23166667</div>
<div class="tag" style="top:561px;width:50px;background:#f7525f;">2.785K</div>
<div class="tb" style="left:25.5px">6h</div>
<div class="tb" style="left:54.5px">1d</div>
<div class="tb" style="left:81.5px">1w</div>
<div class="tb" style="left:110.5px">1m</div>
<div class="tb blue" style="left:141.5px">1y</div>
<div style="position:absolute;left:143px;top:637px;width:10px;height:2px;background:#2962ff;"></div>
<div class="tb" style="left:167px">ALL</div>
<div class="sep" style="left:200px"></div>
<svg style="position:absolute;left:213px;top:614px" width="22" height="22" viewBox="0 0 22 22" fill="none" stroke="#131722" stroke-width="1.2"><path d="M7.4 2v3.7M14.4 2v3.7M2.5 10.6V6.4a2 2 0 0 1 2-2h13a2 2 0 0 1 2 2v11a2 2 0 0 1-2 2h-6.3M2.5 8.3h17M1.1 16.3h7.5M5.2 13.1l3.4 3.2-3.4 3.4"/></svg>
<div class="tb" style="left:611.2px;font-size:14px;">04:24:07 (UTC)</div>
<div class="sep" style="left:716.5px"></div>
<div class="tb" style="left:727px;font-size:15px;">%</div>
<div class="tb" style="left:753.5px;font-size:14px;letter-spacing:.7px">log</div>
<div class="tb blue" style="left:783.5px;font-size:14px;letter-spacing:.8px">auto</div>
<div class="title">rs</div>
<div class="wmg"><div class="wm"><span>PARSIANCRYPTO.COM</span></div>
<svg class="logo" width="40" height="42" viewBox="0 0 40 42">
<defs><clipPath id="lc"><circle cx="20.1" cy="20.5" r="18.4"/></clipPath></defs>
<circle cx="20.1" cy="20.5" r="18.4" fill="#2f97c2"/>
<g clip-path="url(#lc)" fill="#fff" stroke="none">
<rect x="13.1" y="33.3" width="16.1" height="8"/>
<path d="M17.2 34 C17.5 31 17.4 29.3 16.2 28 L12.6 25 L13.8 22 C16 23.6 17.4 24.8 18.3 26.2 L19.7 27.2 L20 16 L21.8 16 L21.9 27.4 C23 23.5 25.2 20 28.4 17.3 L29.9 18.9 C26.6 22.5 25.3 26 25.4 34 Z"/>
<path d="M17.7 25.4 C16.8 21.8 15 19.4 12.4 16.8" fill="none" stroke="#fff" stroke-width="1.1"/>
<circle cx="20" cy="12.2" r="4.8"/><circle cx="30" cy="16.8" r="2.7"/><circle cx="11.5" cy="15.6" r="2.4"/><circle cx="11" cy="22.4" r="3.2"/>
</g></svg></div>
</div>
</body></html>
